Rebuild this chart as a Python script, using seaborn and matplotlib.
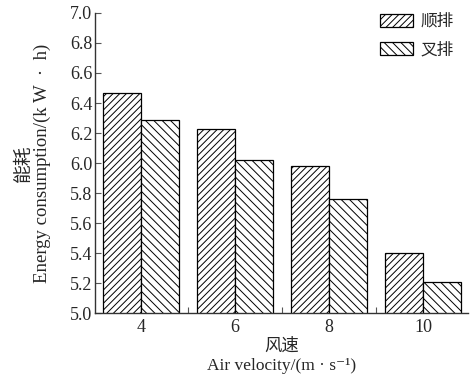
import matplotlib
matplotlib.use("Agg")
import matplotlib.pyplot as plt
import seaborn as sns
import pandas as pd
import numpy as np

velocities = ["4", "6", "8", "10"]
series_names = ["顺排", "叉排"]
shun_pai = [6.47, 6.23, 5.98, 5.40]
cha_pai = [6.29, 6.02, 5.76, 5.21]
y_ticks = [5.0, 5.2, 5.4, 5.6, 5.8, 6.0, 6.2, 6.4, 6.6, 6.8, 7.0]

sns.set_theme(style="ticks")
plt.rcParams['font.family'] = ['Liberation Serif', 'DejaVu Serif', 'Noto Sans CJK SC']
plt.rcParams['hatch.linewidth'] = 0.7

df = pd.DataFrame({
    "v": velocities * 2,
    "s": [series_names[0]] * 4 + [series_names[1]] * 4,
    "e": shun_pai + cha_pai,
})

fig = plt.figure(figsize=(4.70, 3.81), dpi=100)
ax = fig.add_axes([0.202, 0.178, 0.794, 0.788])
sns.barplot(data=df, x="v", y="e", hue="s", order=velocities, hue_order=series_names,
            width=0.81, ax=ax, edgecolor="black", linewidth=0.9, errorbar=None,
            palette=["white", "white"], saturation=1, legend=True)

hatches = ["/////", "\\\\\\\\"]
for cont, h in zip(ax.containers, hatches):
    for bar in cont:
        bar.set_hatch(h)
        bar.set_facecolor("white")
        bar.set_edgecolor("black")

ax.set_ylim(5.0, 7.0)
ax.set_yticks(y_ticks)
ax.set_yticklabels([f"{t:.1f}" for t in y_ticks])
ax.set_xlim(-0.49, 3.48)
ax.set_xticks(range(len(velocities)))
ax.set_xticklabels(velocities)
ax.set_xticks([0.5, 1.5, 2.5], minor=True)
ax.tick_params(axis='x', which='major', length=0, labelsize=13, pad=4)
ax.tick_params(axis='x', which='minor', direction='in', length=4, width=0.8, color='#555555')
ax.tick_params(axis='y', direction='in', length=4, width=0.8, labelsize=13, pad=2, color='#555555')
for s in ["top", "right"]:
    ax.spines[s].set_visible(False)
for s in ["left", "bottom"]:
    ax.spines[s].set_linewidth(1.0)
    ax.spines[s].set_color("#333333")

ax.set_ylabel("能耗\nEnergy consumption/(k W  ·  h)", fontsize=13.5, linespacing=1.05)
ax.yaxis.set_label_coords(-0.118, 0.5)
ax.set_xlabel("风速\nAir velocity/(m · s⁻¹)", fontsize=12.5, labelpad=2, linespacing=1.25)

leg = ax.legend(loc="upper right", bbox_to_anchor=(0.966, 0.966), bbox_transform=fig.transFigure,
                frameon=False, borderaxespad=0, borderpad=0,
                handlelength=2.0, handleheight=0.85, labelspacing=0.7, handletextpad=0.45,
                prop={'family': ['Noto Sans CJK SC'], 'size': 12})
for patch, h in zip(leg.get_patches(), hatches):
    patch.set_hatch(h)
    patch.set_facecolor("white")
    patch.set_edgecolor("black")

fig.savefig("out.png", dpi=100)
